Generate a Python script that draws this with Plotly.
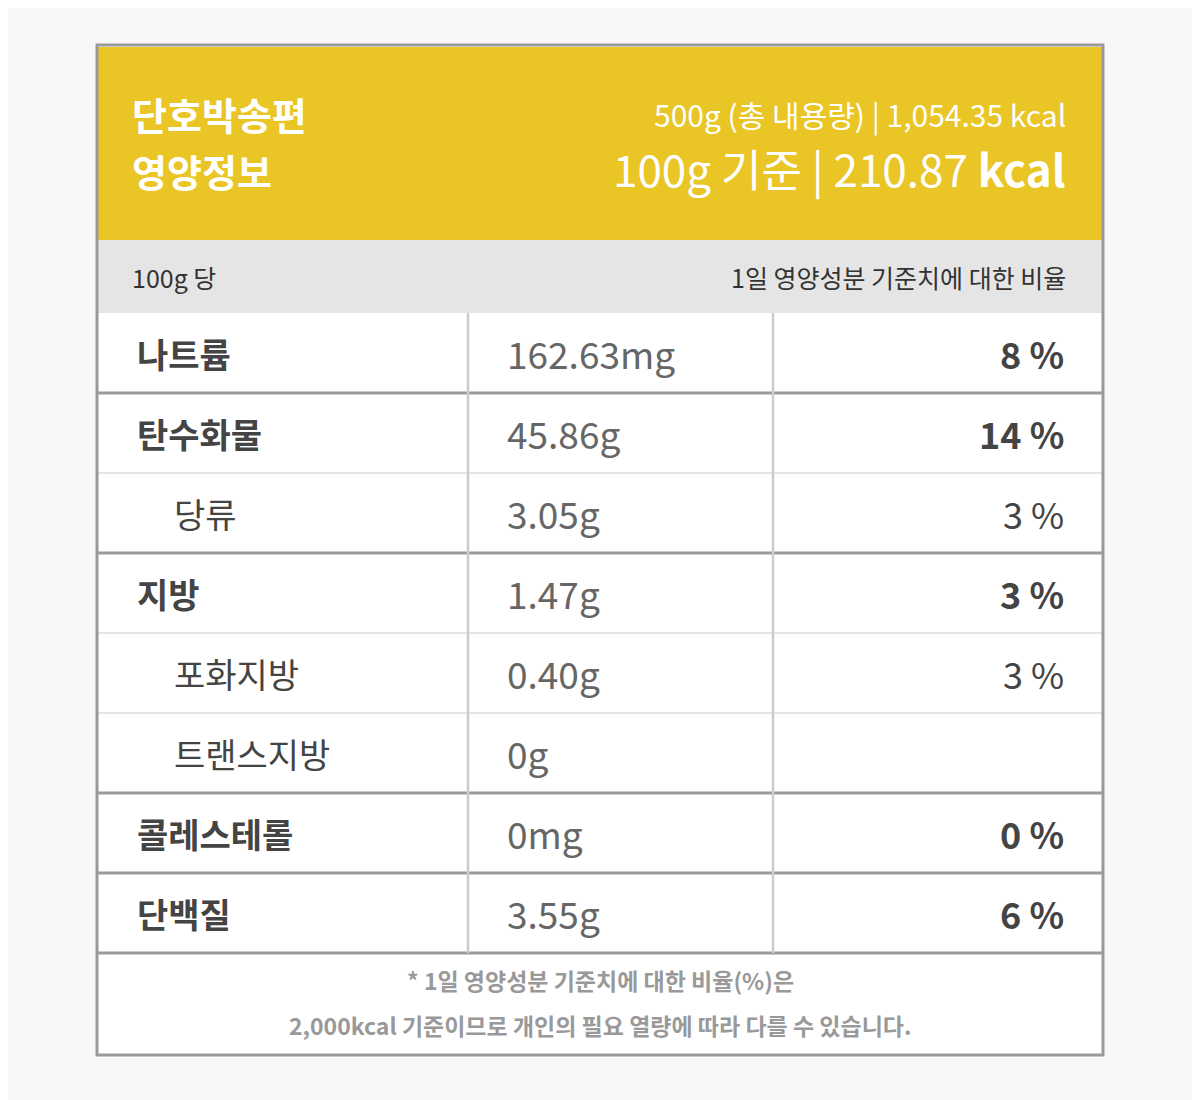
import plotly.graph_objects as go

# Table data
names = ["나트륨", "탄수화물", "당류", "지방", "포화지방", "트랜스지방", "콜레스테롤", "단백질"]
amounts = ["162.63mg", "45.86g", "3.05g", "1.47g", "0.40g", "0g", "0mg", "3.55g"]
percents = ["8 %", "14 %", "3 %", "3 %", "3 %", "", "0 %", "6 %"]
is_sub = [False, False, True, False, True, True, False, False]

title_lines = ["단호박송편", "영양정보"]
total_line = "500g (총 내용량) | 1,054.35 kcal"
per100_line = "100g 기준 | 210.87 <b>kcal</b>"
sub_left = "100g 당"
sub_right = "1일 영양성분 기준치에 대한 비율"
footnote = ["* 1일 영양성분 기준치에 대한 비율(%)은",
            "2,000kcal 기준이므로 개인의 필요 열량에 따라 다를 수 있습니다."]

FONT = "Noto Sans CJK KR"
L, R = 98, 1102
top_rows, row_h = 313, 80

shapes, ann = [], []


def rect(x0, y0, x1, y1, fill):
    shapes.append(dict(type="rect", x0=x0, y0=y0, x1=x1, y1=y1,
                       fillcolor=fill, line_width=0, layer="below"))


def line(x0, y0, x1, y1, color, w):
    shapes.append(dict(type="line", x0=x0, y0=y0, x1=x1, y1=y1,
                       line=dict(color=color, width=w)))


def text(x, y, s, size, color, anchor="left", bold=False):
    if bold:
        s = f"<b>{s}</b>"
    ann.append(dict(x=x, y=y, text=s, showarrow=False, xanchor=anchor,
                    yanchor="middle", font=dict(family=FONT, size=size, color=color)))


rect(L, 45, R, 1055, "white")
rect(L, 47, R, 240, "#eac526")
rect(L, 240, R, top_rows, "#e5e5e5")

text(130, 113, title_lines[0], 38, "white", bold=True)
text(130, 170, title_lines[1], 38, "white", bold=True)
text(1068, 114, total_line, 30, "white", "right")
text(1068, 168, per100_line, 44, "white", "right")
text(130, 277, sub_left, 25, "#333")
text(1068, 277, sub_right, 25, "#333", "right")

for i, (n, a, p, sub) in enumerate(zip(names, amounts, percents, is_sub)):
    yc = top_rows + row_h * i + row_h / 2
    text(172 if sub else 135, yc, n, 34, "#444", bold=not sub)
    text(505, yc, a, 37, "#666")
    text(1066, yc, p, 36, "#444", "right", bold=not sub)
    y_bot = top_rows + row_h * (i + 1)
    nxt_sub = is_sub[i + 1] if i + 1 < len(names) else False
    if nxt_sub:
        line(L, y_bot, R, y_bot, "#dddddd", 1.5)
    else:
        line(L, y_bot, R, y_bot, "#999999", 3)

y_end = top_rows + row_h * len(names)
for x in (468, 773):
    line(x, top_rows, x, y_end, "#cccccc", 2.5)

text(600, 980, footnote[0], 23, "#999", "center", bold=True)
text(600, 1025, footnote[1], 23, "#999", "center", bold=True)

shapes.append(dict(type="rect", x0=L - 1, y0=45, x1=R + 1, y1=1055,
                   line=dict(color="#999999", width=3)))

# the page body adds an 8px margin, so shift the ranges to compensate
fig = go.Figure()
fig.update_layout(width=1200, height=1100, margin=dict(l=0, r=0, t=0, b=0),
                  paper_bgcolor="#f8f8f8", plot_bgcolor="#f8f8f8",
                  shapes=shapes, annotations=ann, showlegend=False,
                  xaxis=dict(range=[8, 1208], visible=False, fixedrange=True),
                  yaxis=dict(range=[1108, 8], visible=False, fixedrange=True))
fig.write_html("out.html", config={"displayModeBar": False})
